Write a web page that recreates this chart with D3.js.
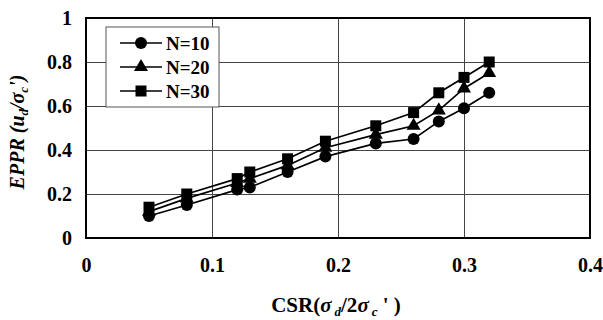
<!DOCTYPE html>
<html>
<head>
<meta charset="utf-8">
<script src="https://cdn.jsdelivr.net/npm/d3@7"></script>
<style>
  body { margin: 0; background: #fff; }
</style>
</head>
<body>
<div id="chart"></div>
<script>
// CSR values (x) shared by all series
const csr = [0.05, 0.08, 0.12, 0.13, 0.16, 0.19, 0.23, 0.26, 0.28, 0.30, 0.32];
const epprN10 = [0.10, 0.15, 0.22, 0.23, 0.30, 0.37, 0.43, 0.45, 0.53, 0.59, 0.66];
const epprN20 = [0.12, 0.18, 0.25, 0.27, 0.33, 0.41, 0.47, 0.51, 0.58, 0.68, 0.75];
const epprN30 = [0.14, 0.20, 0.27, 0.30, 0.36, 0.44, 0.51, 0.57, 0.66, 0.73, 0.80];
const seriesNames = ['N=10', 'N=20', 'N=30'];
const xTicks = [0, 0.1, 0.2, 0.3, 0.4];
const yTicks = [0, 0.2, 0.4, 0.6, 0.8, 1];

const FONT = '"Liberation Serif", "Times New Roman", Times, serif';

const width = 603, height = 320;
const margin = { top: 18, right: 13, bottom: 82, left: 86 };
const w = width - margin.left - margin.right;
const h = height - margin.top - margin.bottom;

const svg = d3.select('#chart').append('svg')
  .attr('width', width)
  .attr('height', height)
  .style('font-family', FONT);

const g = svg.append('g')
  .attr('transform', `translate(${margin.left},${margin.top})`);

const x = d3.scaleLinear().domain([0, 0.4]).range([0, w]);
const y = d3.scaleLinear().domain([0, 1]).range([h, 0]);

// grid
g.append('g')
  .call(d3.axisLeft(y).tickValues(yTicks).tickSize(-w).tickFormat(''))
  .call(g => g.select('.domain').remove())
  .call(g => g.selectAll('line').attr('stroke', '#444').attr('stroke-width', 1));
g.append('g')
  .attr('transform', `translate(0,${h})`)
  .call(d3.axisBottom(x).tickValues(xTicks).tickSize(-h).tickFormat(''))
  .call(g => g.select('.domain').remove())
  .call(g => g.selectAll('line').attr('stroke', '#444').attr('stroke-width', 1));

// tick labels
g.append('g')
  .call(d3.axisLeft(y).tickValues(yTicks).tickSize(0).tickPadding(14).tickFormat(d3.format('')))
  .call(g => g.select('.domain').remove())
  .call(g => g.selectAll('text')
    .attr('fill', '#000')
    .style('font-family', FONT)
    .style('font-weight', 'bold')
    .style('font-size', '20px'));
g.append('g')
  .attr('transform', `translate(0,${h})`)
  .call(d3.axisBottom(x).tickValues(xTicks).tickSize(0).tickPadding(20).tickFormat(d3.format('')))
  .call(g => g.select('.domain').remove())
  .call(g => g.selectAll('text')
    .attr('fill', '#000')
    .style('font-family', FONT)
    .style('font-weight', 'bold')
    .style('font-size', '20px'));

// frame
g.append('rect')
  .attr('width', w).attr('height', h)
  .attr('fill', 'none').attr('stroke', '#000').attr('stroke-width', 2);

const markers = [
  (sel) => sel.append('circle').attr('r', 6),
  (sel) => sel.append('path').attr('d', d3.symbol(d3.symbolTriangle, 85)()),
  (sel) => sel.append('rect').attr('x', -5.5).attr('y', -5.5).attr('width', 11).attr('height', 11)
];

const allSeries = [epprN10, epprN20, epprN30];
const line = d3.line().x(d => x(d[0])).y(d => y(d[1]));

allSeries.forEach((vals) => {
  const pts = csr.map((c, k) => [c, vals[k]]);
  g.append('path')
    .datum(pts)
    .attr('fill', 'none')
    .attr('stroke', '#000')
    .attr('stroke-width', 1.7)
    .attr('d', line);
});
allSeries.forEach((vals, i) => {
  csr.forEach((c, k) => {
    const m = g.append('g')
      .attr('transform', `translate(${x(c)},${y(vals[k])})`)
      .attr('fill', '#000');
    markers[i](m);
  });
});

// legend
const lg = svg.append('g').attr('transform', 'translate(106,27)');
lg.append('rect')
  .attr('width', 113).attr('height', 80)
  .attr('fill', '#fff').attr('stroke', '#555').attr('stroke-width', 1);
seriesNames.forEach((name, i) => {
  const yy = 16 + i * 24;
  lg.append('line')
    .attr('x1', 14).attr('x2', 56).attr('y1', yy).attr('y2', yy)
    .attr('stroke', '#000').attr('stroke-width', 1.7);
  const m = lg.append('g').attr('transform', `translate(35,${yy})`).attr('fill', '#000');
  markers[i](m);
  lg.append('text')
    .attr('x', 60).attr('y', yy).attr('dy', '0.35em')
    .style('font-size', '19px')
    .style('font-weight', 'bold')
    .text(name);
});

// axis titles
svg.append('text')
  .attr('x', 336).attr('y', 312)
  .attr('text-anchor', 'middle')
  .style('font-size', '21px')
  .style('font-weight', 'bold')
  .html('CSR(<tspan font-style="italic">σ</tspan><tspan font-size="13px" font-style="italic" dx="3" dy="4">d</tspan><tspan dy="-4">/2</tspan><tspan font-style="italic">σ</tspan><tspan font-size="13px" font-style="italic" dx="3" dy="4">c</tspan><tspan dy="-4"> \' )</tspan>');

svg.append('text')
  .attr('transform', `translate(24,132) rotate(-90)`)
  .attr('text-anchor', 'middle')
  .style('font-size', '20px')
  .style('font-weight', 'bold')
  .style('font-style', 'italic')
  .html('EPPR (<tspan>u</tspan><tspan font-size="13px" dy="4">d</tspan><tspan dy="-4">/σ</tspan><tspan font-size="13px" dy="4">c</tspan><tspan dy="-4">\')</tspan>');
</script>
</body>
</html>
